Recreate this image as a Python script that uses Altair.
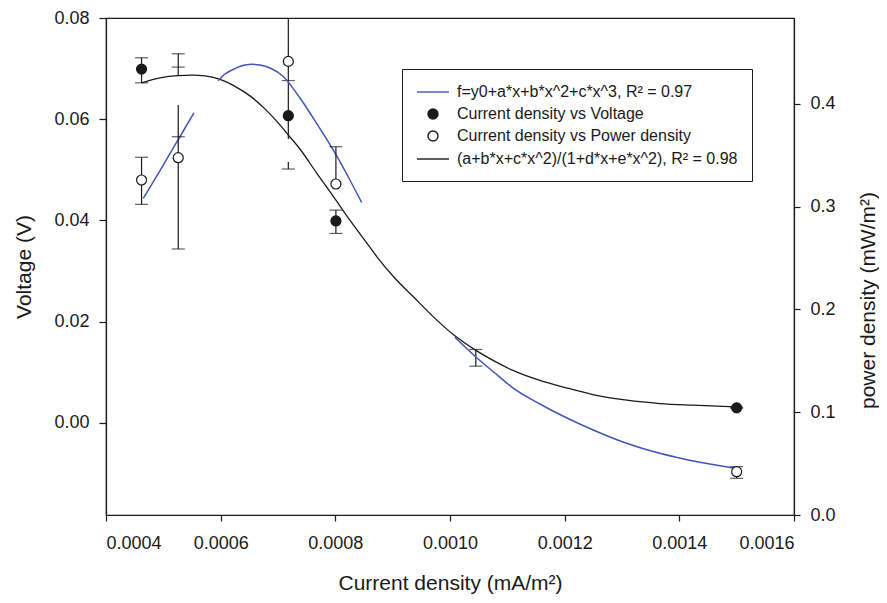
import altair as alt
import pandas as pd

# ---------------- axes ----------------
x_domain = [0.0004, 0.0016]
x_ticks = [0.0004, 0.0006, 0.0008, 0.0010, 0.0012, 0.0014, 0.0016]
v_domain = [-0.0182, 0.08]
v_ticks = [0.00, 0.02, 0.04, 0.06, 0.08]
p_domain = [0.0, 0.4835]
p_ticks = [0.0, 0.1, 0.2, 0.3, 0.4]

# ---------------- measured points ----------------
volt_x = [0.000462, 0.000718, 0.000801, 0.0015]
volt_y = [0.0699, 0.0607, 0.0399, 0.00297]
pow_x = [0.000462, 0.000526, 0.000718, 0.000801, 0.0015]
pow_y = [0.3259, 0.3476, 0.4413, 0.3220, 0.0421]

# ---------------- rational fit (voltage, black) ----------------
fitv_x = [0.0004623, 0.0004942, 0.0005255, 0.0005500, 0.0005726, 0.0005988, 0.0006249,
          0.0006511, 0.0006772, 0.0007034, 0.0007179, 0.0007383, 0.0007674, 0.0008010,
          0.0008254, 0.0008603, 0.0008743, 0.0009039, 0.0009353, 0.0009702, 0.0010051,
          0.0010452, 0.0010783, 0.0011097, 0.0011568, 0.0012004, 0.0012492, 0.0013085,
          0.0013661, 0.0014236, 0.0014986]
fitv_y = [0.06719, 0.06818, 0.06863, 0.06871, 0.06857, 0.06788, 0.06650,
          0.06461, 0.06204, 0.05887, 0.05689, 0.05412, 0.04937, 0.04402,
          0.04006, 0.03471, 0.03254, 0.02857, 0.02501, 0.02105, 0.01750,
          0.01432, 0.01214, 0.01036, 0.00838, 0.00699, 0.00560, 0.00448,
          0.00382, 0.00349, 0.00317]

# ---------------- cubic fit (power, blue), visible pieces ----------------
fitp_x = [0.0004650, 0.0004942, 0.0005261, 0.0005534,
          0.0005958, 0.0006075, 0.0006249, 0.0006424, 0.0006546, 0.0006685, 0.0006860,
          0.0007092, 0.0007383, 0.0007674, 0.0007963, 0.0008254, 0.0008459,
          0.0010086, 0.0010446, 0.0010783, 0.0011102, 0.0011568, 0.0012004, 0.0012497,
          0.0013079, 0.0013660, 0.0014241, 0.0015000]
fitp_y = [0.3081, 0.3351, 0.3653, 0.3913,
          0.4225, 0.4290, 0.4343, 0.4377, 0.4384, 0.4377, 0.4348,
          0.4266, 0.4057, 0.3810, 0.3551, 0.3259, 0.3040,
          0.1729, 0.1540, 0.1381, 0.1235, 0.1080, 0.0953, 0.0827,
          0.0698, 0.0600, 0.0525, 0.0452]
fitp_seg = [1, 1, 1, 1,
            2, 2, 2, 2, 2, 2, 2, 2, 2, 2, 2, 2, 2,
            3, 3, 3, 3, 3, 3, 3, 3, 3, 3, 3]

# ---------------- error bars (voltage axis) ----------------
ev_x = [0.000462, 0.000526, 0.000718, 0.000718, 0.000801, 0.001045, 0.0015]
ev_lo = [0.06719, 0.06863, 0.0561, 0.05016, 0.03743, 0.01121, 0.0029]
ev_hi = [0.07214, 0.07293, 0.0800, 0.05154, 0.04204, 0.01451, 0.0031]
cv_x = [0.000462, 0.000462, 0.000526, 0.000526, 0.000718, 0.000718,
        0.000801, 0.000801, 0.001045, 0.001045, 0.0015, 0.0015]
cv_y = [0.07214, 0.06719, 0.07293, 0.0703, 0.06764, 0.05016,
        0.04204, 0.03743, 0.01451, 0.01121, 0.0031, 0.0029]

# ---------------- error bars (power axis) ----------------
ep_x = [0.000462, 0.000526, 0.000801, 0.0015]
ep_lo = [0.3022, 0.2588, 0.3220, 0.0357]
ep_hi = [0.3480, 0.3988, 0.3583, 0.0470]
cp_x = [0.000462, 0.000462, 0.000526, 0.000526, 0.000801, 0.0015, 0.0015]
cp_y = [0.3480, 0.3022, 0.3680, 0.2588, 0.3583, 0.0470, 0.0357]

# ---------------- legend ----------------
legend_labels = ["f=y0+a*x+b*x^2+c*x^3, R\u00b2 = 0.97",
                 "Current density vs Voltage",
                 "Current density vs Power density",
                 "(a+b*x+c*x^2)/(1+d*x+e*x^2), R\u00b2 = 0.98"]
BLUE = "#4056b4"
INK = "#1a1a1a"
LINE_SYMBOL = "M-2,0H2"
shape_range = [LINE_SYMBOL, "circle", "circle", LINE_SYMBOL]
fill_range = ["transparent", INK, "white", "transparent"]
stroke_range = [BLUE, INK, INK, INK]
size_range = [256, 100, 100, 256]

FONT = "Liberation Sans"

# ---------------- frames ----------------
df_volt = pd.DataFrame({"x": volt_x, "y": volt_y, "series": legend_labels[1]})
df_pow = pd.DataFrame({"x": pow_x, "y": pow_y, "series": legend_labels[2]})
df_fitv = pd.DataFrame({"x": fitv_x, "y": fitv_y})
df_fitp = pd.DataFrame({"x": fitp_x, "y": fitp_y, "seg": fitp_seg})
df_ev = pd.DataFrame({"x": ev_x, "y": ev_lo, "y2": ev_hi})
df_cv = pd.DataFrame({"x": cv_x, "y": cv_y})
df_ep = pd.DataFrame({"x": ep_x, "y": ep_lo, "y2": ep_hi})
df_cp = pd.DataFrame({"x": cp_x, "y": cp_y})

X = alt.X("x:Q", scale=alt.Scale(domain=x_domain, nice=False, zero=False),
          axis=alt.Axis(values=x_ticks, format=".4f", title="Current density (mA/m\u00b2)",
                        tickSize=6, labelPadding=13, titlePadding=20))


def YV():
    return alt.Y("y:Q", scale=alt.Scale(domain=v_domain, nice=False, zero=False),
                 axis=alt.Axis(values=v_ticks, format=".2f", title="Voltage (V)", orient="left",
                               tickSize=7, labelPadding=10, titlePadding=19))


def YP():
    return alt.Y("y:Q", scale=alt.Scale(domain=p_domain, nice=False, zero=False),
                 axis=alt.Axis(values=p_ticks, format=".1f", title="power density (mW/m\u00b2)",
                               orient="right", tickSize=6, labelPadding=10,
                               titleAngle=270, titleX=74, titleY=282,
                               titleAlign="center", titleBaseline="middle"))


def series_enc():
    leg = alt.Legend(title=None, orient="none", legendX=296, legendY=51, padding=14,
                     symbolOffset=8, strokeColor=INK, fillColor="white", labelFontSize=16,
                     labelFont=FONT, labelLimit=500, rowPadding=6, labelOffset=15,
                     symbolStrokeWidth=1.4, cornerRadius=0, labelColor=INK)
    return dict(
        shape=alt.Shape("series:N", scale=alt.Scale(domain=legend_labels, range=shape_range), legend=leg),
        fill=alt.Fill("series:N", scale=alt.Scale(domain=legend_labels, range=fill_range), legend=leg),
        stroke=alt.Stroke("series:N", scale=alt.Scale(domain=legend_labels, range=stroke_range), legend=leg),
        size=alt.Size("series:N", scale=alt.Scale(type="ordinal", domain=legend_labels, range=size_range),
                      legend=leg),
    )


# ----- voltage (left axis) layer -----
v_line = alt.Chart(df_fitv).mark_line(color=INK, strokeWidth=1.3, interpolate="monotone").encode(
    x=X, y=YV())
v_err = alt.Chart(df_ev).mark_rule(color=INK, strokeWidth=1.2).encode(x=X, y=YV(), y2="y2:Q")
v_cap = alt.Chart(df_cv).mark_tick(orient="horizontal", size=13, thickness=1.2, color=INK).encode(x=X, y=YV())
v_pts = alt.Chart(df_volt).mark_point(filled=False, opacity=1, strokeWidth=1.2).encode(
    x=X, y=YV(), **series_enc())
left = alt.layer(v_line, v_err, v_cap, v_pts)

# ----- power (right axis) layer -----
p_line = alt.Chart(df_fitp).mark_line(color=BLUE, strokeWidth=1.5, interpolate="monotone").encode(
    x=X, y=YP(), detail="seg:N")
p_err = alt.Chart(df_ep).mark_rule(color=INK, strokeWidth=1.2).encode(x=X, y=YP(), y2="y2:Q")
p_cap = alt.Chart(df_cp).mark_tick(orient="horizontal", size=13, thickness=1.2, color=INK).encode(x=X, y=YP())
p_pts = alt.Chart(df_pow).mark_point(filled=False, opacity=1, strokeWidth=1.2).encode(
    x=X, y=YP(), **series_enc())
right = alt.layer(p_line, p_err, p_cap, p_pts)

chart = alt.layer(left, right).resolve_scale(y="independent").properties(
    width=688, height=497,
    autosize=alt.AutoSizeParams(type="none"),
    padding={"left": 98, "top": 10, "right": 85, "bottom": 80},
).configure_view(stroke=INK, strokeWidth=1.2).configure_axis(
    labelFont=FONT, titleFont=FONT, labelFontSize=18, titleFontSize=21,
    titleFontWeight="normal", labelColor=INK, titleColor=INK,
    domainColor=INK, tickColor=INK, domainWidth=1.2, tickWidth=1.2, grid=False,
)

chart.save("out.html", embed_options={"renderer": "svg", "actions": False})
